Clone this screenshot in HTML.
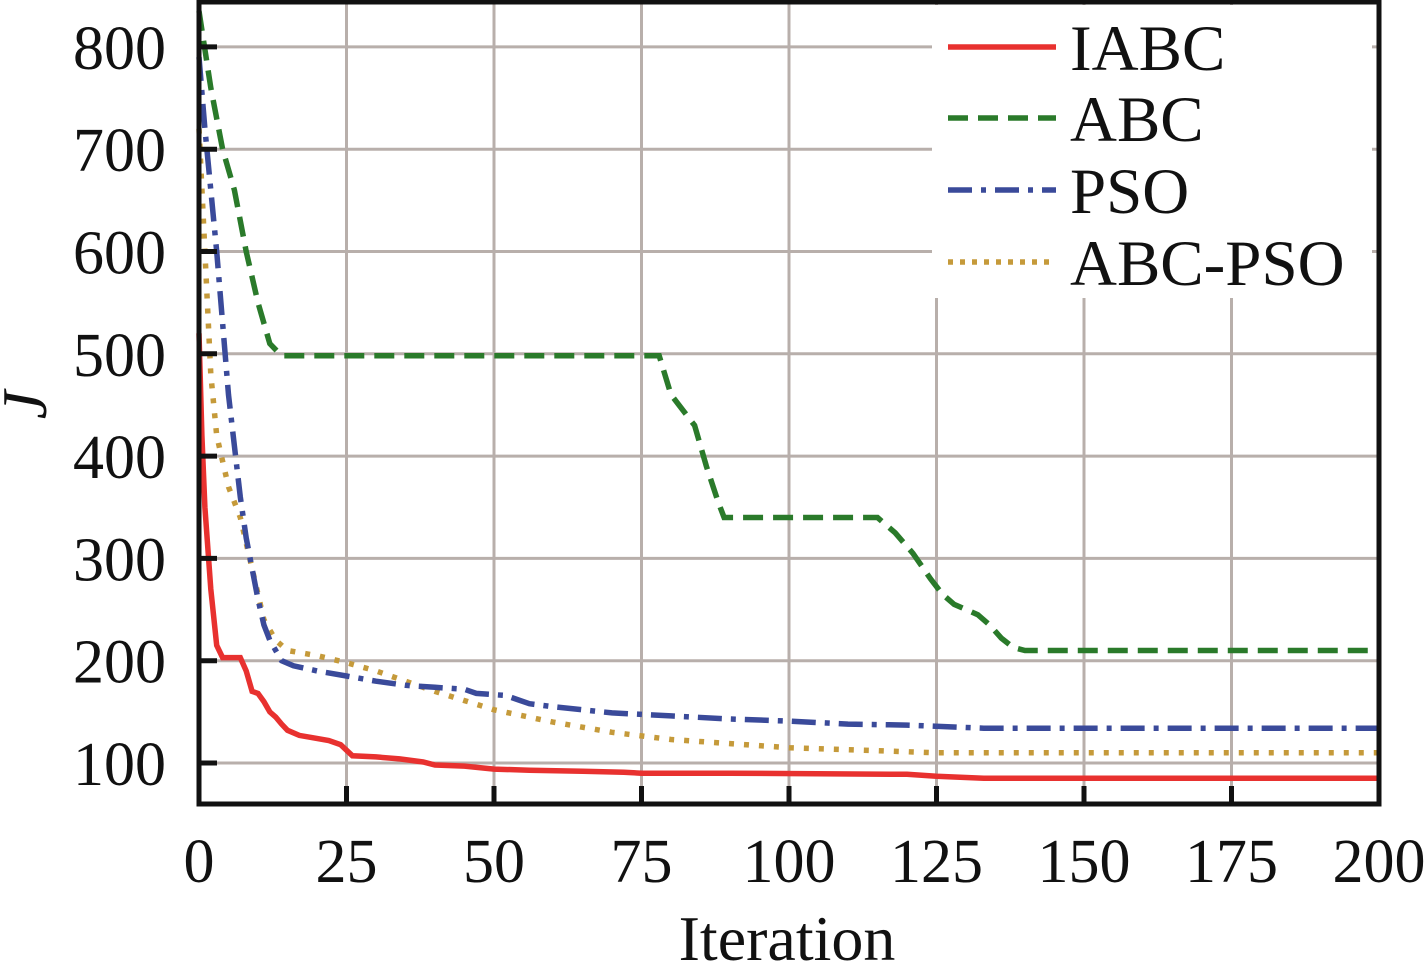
<!DOCTYPE html>
<html><head><style>
html,body{margin:0;padding:0;background:#fff;}
svg{display:block;}
text{font-family:"Liberation Serif",serif;fill:#111;}
</style></head><body>
<svg id="s" width="1427" height="962" xmlns="http://www.w3.org/2000/svg">
<g id="grid" stroke="#b8afab" stroke-width="3"></g>
<rect x="932" y="5" width="440" height="293" fill="#fff"/>
<g id="series" fill="none" stroke-width="5.5"></g>
<rect x="199" y="2" width="1180" height="802" fill="none" stroke="#111" stroke-width="5"/>
<g id="ticks" stroke="#111" stroke-width="5"></g>
<g id="labels" font-size="62"></g>
<text x="787" y="960" font-size="64" text-anchor="middle">Iteration</text>
<text x="0" y="0" font-size="64" font-style="italic" transform="translate(46,405) rotate(-90)" text-anchor="middle">J</text>
<g font-size="65">
<line x1="948" y1="47" x2="1056" y2="47" stroke="#e8312f" stroke-width="5.5"/>
<text x="1070" y="70">IABC</text>
<line x1="948" y1="118" x2="1056" y2="118" stroke="#2a7a2a" stroke-width="5.5" stroke-dasharray="20,10"/>
<text x="1070" y="141">ABC</text>
<line x1="948" y1="190" x2="1056" y2="190" stroke="#3a4a9a" stroke-width="5.5" stroke-dasharray="24,9,5,9"/>
<text x="1070" y="213">PSO</text>
<line x1="948" y1="262" x2="1056" y2="262" stroke="#c59a3a" stroke-width="5.5" stroke-dasharray="5,7"/>
<text x="1070" y="285">ABC-PSO</text>
</g>
</svg>
<script>
var NS="http://www.w3.org/2000/svg";
function X(i){return 199+i*5.9;}
function Y(v){return 763-(v-100)*1.023;}
function el(p,t,a){var e=document.createElementNS(NS,t);for(var k in a)e.setAttribute(k,a[k]);p.appendChild(e);return e;}
var g=document.getElementById('grid'),tk=document.getElementById('ticks'),lb=document.getElementById('labels');
for(var i=25;i<200;i+=25){el(g,'line',{x1:X(i),y1:2,x2:X(i),y2:804});el(tk,'line',{x1:X(i),y1:804,x2:X(i),y2:786});}
for(var i=0;i<=200;i+=25){var t=el(lb,'text',{x:X(i),y:882,'text-anchor':'middle'});t.textContent=i;}
for(var v=100;v<=800;v+=100){el(g,'line',{x1:199,y1:Y(v),x2:1379,y2:Y(v)});el(tk,'line',{x1:199,y1:Y(v),x2:217,y2:Y(v)});var t=el(lb,'text',{x:166,y:Y(v)+22,'text-anchor':'end'});t.textContent=v;}
var S=document.getElementById('series');
function P(d,c,da){var s='';d.forEach(function(p,k){s+=(k?'L':'M')+X(p[0]).toFixed(1)+','+Y(p[1]).toFixed(1);});var a={d:s,stroke:c};if(da)a['stroke-dasharray']=da;el(S,'path',a);}
P([[0,835],[2,760],[4,700],[6,660],[8,600],[10,550],[12,510],[14,498],[78,498],[80,460],[82,445],[84,430],[86,390],[88,355],[89,340],[115,340],[118,325],[121,305],[124,280],[126,265],[128,255],[132,245],[134,235],[136,222],[138,213],[140,210],[200,210]],'#2a7a2a','20,10');
P([[0,720],[1,600],[2,480],[3,420],[4,395],[5,370],[7,340],[9,290],[11,240],[13,220],[15,210],[20,205],[25,198],[30,190],[35,180],[40,170],[50,152],[60,140],[70,130],[80,123],[90,119],[100,115],[115,112],[125,110],[200,110]],'#c59a3a','5,10');
P([[0,790],[1,720],[2,660],[3,600],[4,530],[5,460],[6,410],[7,360],[8,320],[9,290],[10,260],[11,235],[12,220],[14,200],[16,195],[20,190],[25,185],[30,180],[35,176],[40,174],[45,172],[47,168],[52,166],[54,162],[56,158],[60,155],[65,152],[70,149],[80,146],[90,143],[100,141],[110,138],[120,137],[133,134],[200,134]],'#3a4a9a','24,9,5,9');
P([[0,520],[0.5,420],[1,350],[2,270],[3,215],[4,203],[7,203],[8,190],[9,170],[10,168],[11,160],[12,150],[13,145],[14,138],[15,132],[17,127],[19,125],[22,122],[24,118],[26,107],[30,106],[34,104],[38,101],[40,98],[45,97],[50,94],[56,93],[65,92],[72,91],[75,90],[90,90],[120,89],[125,87],[133,85],[200,85]],'#e8312f');
</script>
</body></html>
